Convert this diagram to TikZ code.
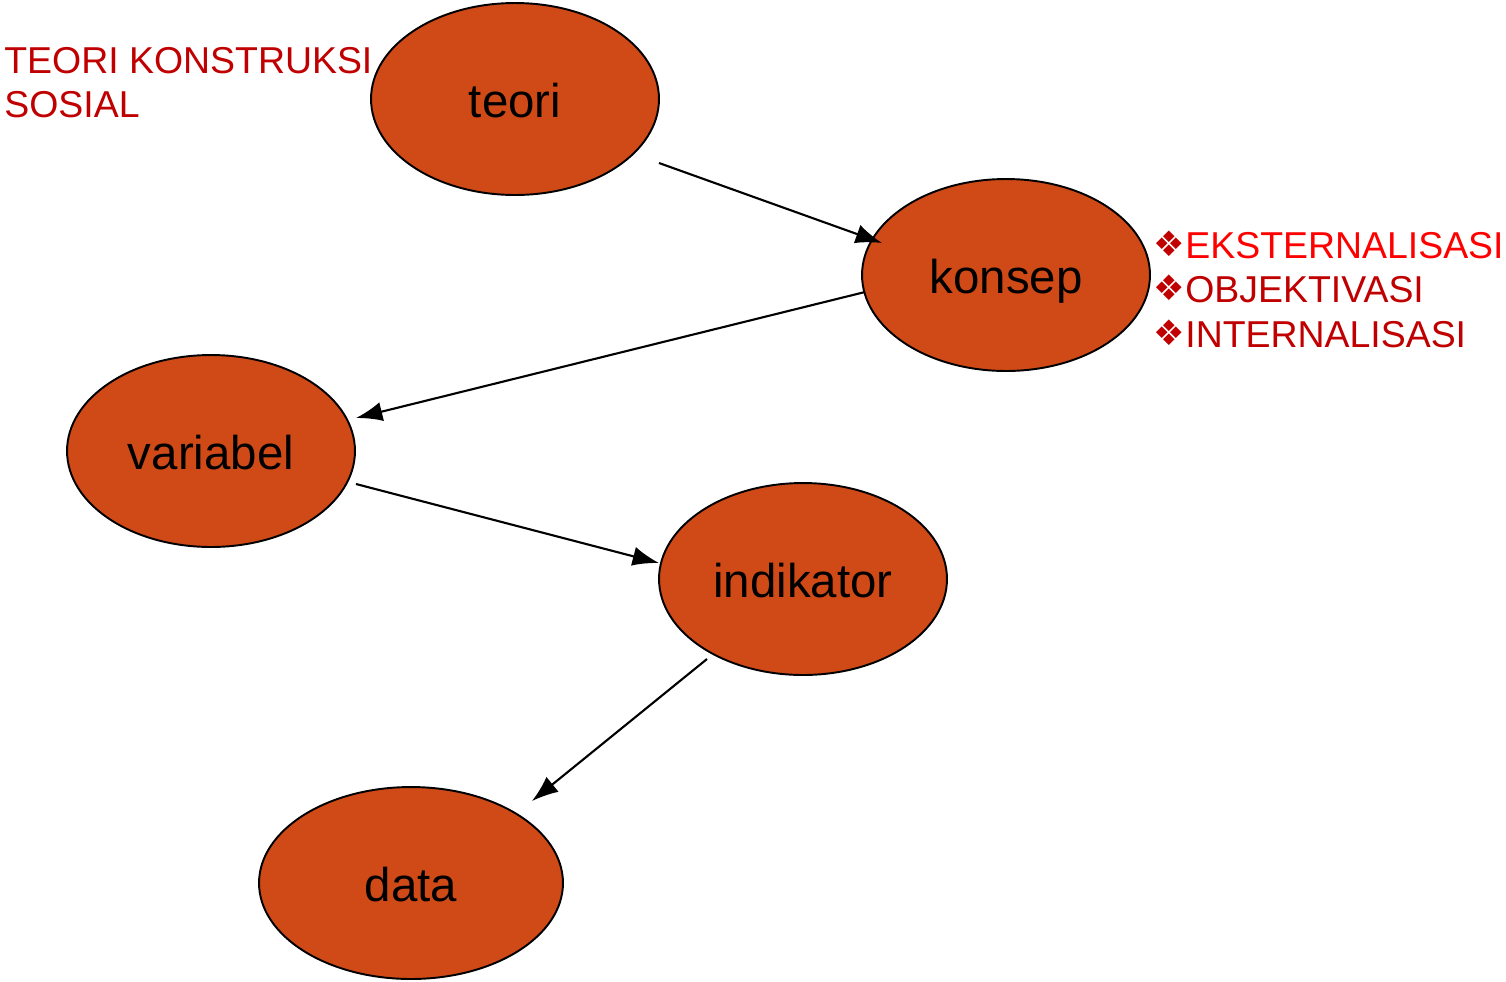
\documentclass[tikz,border=0pt]{standalone}
\usepackage{fontspec}
\setmainfont{Liberation Sans}
\newfontfamily\dejavu{DejaVu Sans}
\usetikzlibrary{calc,arrows.meta,shapes.geometric}
\definecolor{ovalfill}{HTML}{D04A18}
\definecolor{darkred}{HTML}{C00000}
\definecolor{brightred}{HTML}{FF0000}
\begin{document}
\begin{tikzpicture}[x=0.02cm,y=-0.02cm,
  oval/.style={ellipse,draw=black,line width=1.1pt,fill=ovalfill,minimum width=5.76cm,minimum height=3.84cm,inner sep=0pt,text height=21.6pt,text depth=0pt,font=\fontsize{27}{32}\selectfont},
  arr/.style={line width=1.2pt,-{Latex[length=15pt,width=11pt]}},
  lbl/.style={anchor=base west,inner sep=0pt,font=\fontsize{21.3}{25}\selectfont},
  bul/.style={anchor=base,inner sep=0pt,text=darkred,font=\dejavu\fontsize{20}{25}\selectfont}]
\useasboundingbox (0,0) rectangle (1506,981);
\node[oval] (teori) at (515,99) {teori};
\node[oval] (konsep) at (1006,275) {konsep};
\node[oval] (variabel) at (211,451) {variabel};
\node[oval] (indikator) at (803,579) {indikator};
\node[oval,minimum width=6.08cm] (data) at (411,883) {data};
\draw[arr] ($(teori)+(144,64)$) -- ($(konsep)+(-124,-32)$);
\draw[arr] ($(konsep)+(-141,17)$) -- ($(variabel)+(145,-33)$);
\draw[arr] ($(variabel)+(145,33)$) -- ($(indikator)+(-144,-16)$);
\draw[arr] ($(indikator)+(-96,80)$) -- ($(data)+(121,-82)$);
\node[lbl,text=darkred] (t1) at (4,73) {TEORI KONSTRUKSI};
\node[lbl,text=darkred] (t2) at (4,117) {SOSIAL};
\node[bul] (b1) at (1169,256) {❖};
\node[lbl,text=brightred] (e1) at (1185,258) {EKSTERNALISASI};
\node[bul] (b2) at (1169,300) {❖};
\node[lbl,text=darkred] (e2) at (1185,302) {OBJEKTIVASI};
\node[bul] (b3) at (1169,345) {❖};
\node[lbl,text=darkred] (e3) at (1185,347) {INTERNALISASI};
\end{tikzpicture}
\end{document}
